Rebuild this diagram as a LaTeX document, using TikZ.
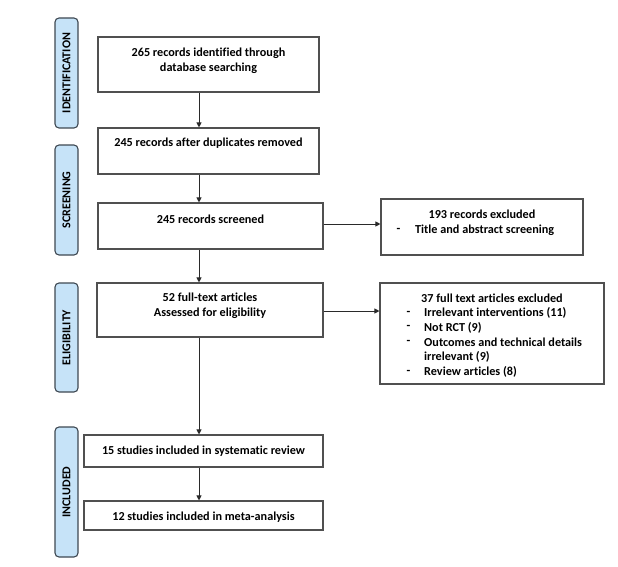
\documentclass[tikz,border=0pt]{standalone}
\usepackage{fontspec}
\setmainfont{Carlito}[Ligatures={NoCommon}]
\usetikzlibrary{arrows.meta}
\definecolor{boxline}{HTML}{505050}
\definecolor{arrline}{HTML}{2A2A2A}
\definecolor{lblfill}{HTML}{C6E3F8}
\definecolor{lblline}{HTML}{3E4852}
\tikzset{
  box/.style={draw=boxline, line width=1.1pt, fill=white, inner sep=0pt},
  txt/.style={inner sep=0pt, font=\fontsize{12.2}{14.6}\selectfont\bfseries, align=center},
  phase/.style={draw=lblline, line width=1.1pt, fill=lblfill, rounded corners=4pt,
    rotate=90, minimum height=23pt, inner sep=0pt,
    font=\fontsize{12}{14.6}\selectfont\bfseries},
  arr/.style={draw=arrline, line width=1pt, -{Triangle[length=5pt,width=5pt]}}
}
\begin{document}
\begin{tikzpicture}[x=1pt,y=-1pt]
\useasboundingbox (0,0) rectangle (618,567);
% phase labels
\node[phase, minimum width=110pt] (pid) at (66.5,73) {IDENTIFICATION};
\node[phase, minimum width=110pt] (psc) at (66.5,200) {SCREENING};
\node[phase, minimum width=109pt] (pel) at (66.5,337.5) {ELIGIBILITY};
\node[phase, minimum width=130pt] (pin) at (66.5,492) {INCLUDED};
% main boxes
\node[box, minimum width=221pt, minimum height=55pt] (b1) at (208.5,64.5) {};
\node[box, minimum width=221pt, minimum height=46pt] (b2) at (208.5,151) {};
\node[box, minimum width=225pt, minimum height=46pt] (b3) at (210.5,226) {};
\node[box, minimum width=226pt, minimum height=54pt] (b4) at (210,310) {};
\node[box, minimum width=239pt, minimum height=32pt] (b5) at (203.5,451) {};
\node[box, minimum width=239pt, minimum height=29pt] (b6) at (203.5,515.5) {};
% main texts
\node[txt] (t1) at (208.5,60.5) {265 records identified through\\database searching};
\node[txt] (t2) at (208.5,143) {245 records after duplicates removed};
\node[txt] (t3) at (210.5,219) {245 records screened};
\node[txt] (t4) at (210,305.5) {52 full-text articles\\Assessed for eligibility};
\node[txt] (t5) at (203.5,451) {15 studies included in systematic review};
\node[txt] (t6) at (203.5,517) {12 studies included in meta-analysis};
% exclusion boxes
\node[box, minimum width=202pt, minimum height=56pt] (e1) at (482,227) {};
\node[box, minimum width=224pt, minimum height=101pt] (e2) at (492,333.5) {};
\node[txt] (h1) at (482,214) {193 records excluded};
\node[txt, anchor=west] (d1) at (396.5,230) {-};
\node[txt, anchor=west] (l1) at (415,230) {Title and abstract screening};
\node[txt] (h2) at (492,298) {37 full text articles excluded};
\node[txt, anchor=west] (d2a) at (406.5,313) {-};
\node[txt, anchor=west] (l2a) at (424,313) {Irrelevant interventions (11)};
\node[txt, anchor=west] (d2b) at (406.5,327.5) {-};
\node[txt, anchor=west] (l2b) at (424,327.5) {Not RCT (9)};
\node[txt, anchor=west] (d2c) at (406.5,342.5) {-};
\node[txt, anchor=west] (l2c) at (424,342.5) {Outcomes and technical details};
\node[txt, anchor=west] (l2d) at (424,357) {irrelevant (9)};
\node[txt, anchor=west] (d2e) at (406.5,372) {-};
\node[txt, anchor=west] (l2e) at (424,372) {Review articles (8)};
% arrows
\coordinate (ax) at (199,0);
\draw[arr] (b1.south -| ax) -- (b2.north -| ax);
\draw[arr] (b2.south -| ax) -- (b3.north -| ax);
\draw[arr] (b3.south -| ax) -- (b4.north -| ax);
\draw[arr] (b4.south -| ax) -- (b5.north -| ax);
\draw[arr] (b5.south -| ax) -- (b6.north -| ax);
\draw[arr] ([yshift=2pt]b3.east) -- ([yshift=2pt]b3.east -| e1.west);
\draw[arr] ([yshift=-1pt]b4.east) -- ([yshift=-1pt]b4.east -| e2.west);
\end{tikzpicture}
\end{document}
